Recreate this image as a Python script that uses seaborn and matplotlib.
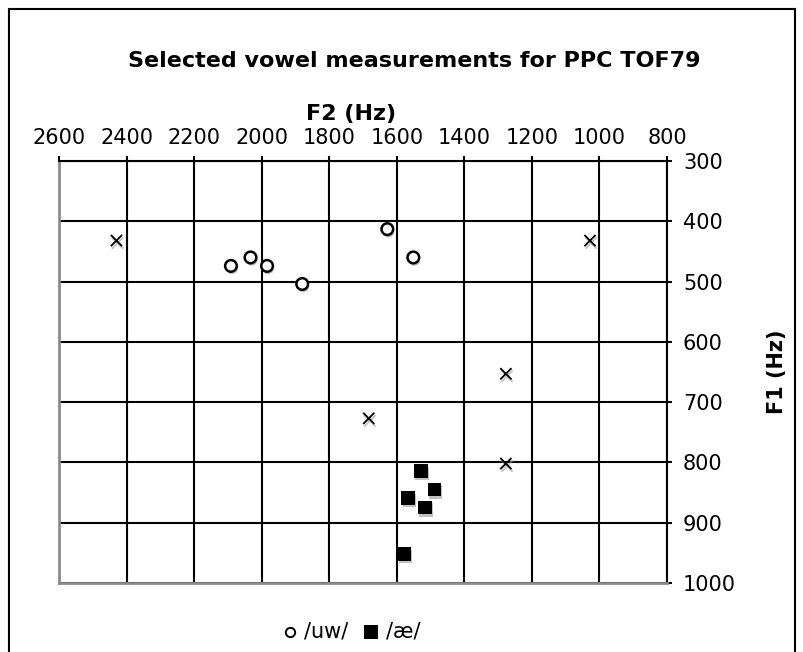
import matplotlib
matplotlib.use("Agg")
import matplotlib.pyplot as plt
import matplotlib.patheffects as pe
import seaborn as sns
import pandas as pd
from matplotlib.patches import Rectangle

# /uw/ tokens
uw_f2 = [2091, 2033, 1984, 1880, 1628, 1551]
uw_f1 = [474, 460, 474, 504, 413, 460]

# /ae/ tokens
ae_f2 = [1529, 1488, 1566, 1517, 1578]
ae_f1 = [814, 845, 859, 875, 952]

# other reference vowels (x markers, not in legend)
ref_f2 = [2430, 1028, 1277, 1683, 1277]
ref_f1 = [432, 432, 653, 727, 802]

df_uw = pd.DataFrame({"F2": uw_f2, "F1": uw_f1})
df_ae = pd.DataFrame({"F2": ae_f2, "F1": ae_f1})
df_ref = pd.DataFrame({"F2": ref_f2, "F1": ref_f1})

sns.set_style("white")
plt.rcParams['font.family'] = ['DejaVu Sans']
plt.rcParams['text.color'] = 'black'
plt.rcParams['axes.labelcolor'] = 'black'
plt.rcParams['xtick.color'] = 'black'
plt.rcParams['ytick.color'] = 'black'

fig = plt.figure(figsize=[8.04, 6.52], dpi=100)
ax = fig.add_axes([0.0734, 0.106, 0.7562, 0.647])

shadow = [pe.SimplePatchShadow(offset=(0.8, -1.8), shadow_rgbFace='0.6', alpha=0.6), pe.Normal()]
lshadow = [pe.SimpleLineShadow(offset=(0.8, -1.8), shadow_color='0.6', alpha=0.6), pe.Normal()]

sns.scatterplot(data=df_ref, x="F2", y="F1", marker='x', color='black', s=65, linewidth=1.3,
                ax=ax, zorder=5, legend=False)
sns.scatterplot(data=df_uw, x="F2", y="F1", marker='o', facecolor='white', edgecolor='black',
                s=70, linewidth=1.8, ax=ax, zorder=5, label='/uw/')
sns.scatterplot(data=df_ae, x="F2", y="F1", marker='s', color='black', edgecolor='black',
                s=95, linewidth=0, ax=ax, zorder=5, label='/æ/')
for coll in ax.collections:
    coll.set_path_effects(lshadow if coll is ax.collections[0] else shadow)

ax.set_xlim(2600, 800)
ax.set_ylim(1000, 300)
ax.set_xticks(range(2600, 799, -200))
ax.set_yticks(range(300, 1001, 100))
ax.grid(True, color='black', linewidth=1.5)
ax.set_axisbelow(True)

ax.xaxis.tick_top()
ax.xaxis.set_label_position('top')
ax.yaxis.tick_right()
ax.yaxis.set_label_position('right')
ax.tick_params(axis='both', direction='out', length=3.5, width=1.5, color='black',
               labelsize=15, labelcolor='black')
ax.tick_params(axis='x', pad=6)
ax.tick_params(axis='y', pad=8)

for side in ['top', 'right']:
    ax.spines[side].set_color('black')
    ax.spines[side].set_linewidth(1.5)
for side in ['left', 'bottom']:
    ax.spines[side].set_color('0.55')
    ax.spines[side].set_linewidth(2)

ax.set_xlabel('F2 (Hz)', fontsize=16, fontweight='bold', labelpad=6)
ax.xaxis.label.set_x(0.48)
ax.set_ylabel('F1 (Hz)', fontsize=15, fontweight='bold', labelpad=22)

fig.text(0.515, 0.906, 'Selected vowel measurements for PPC TOF79', ha='center', va='center',
         fontsize=16, fontweight='bold')

leg = ax.legend(loc='center', bbox_to_anchor=(0.475, -0.116), ncol=2, frameon=False, fontsize=15,
                handletextpad=0.0, columnspacing=0.4, markerscale=0.8, handlelength=1.4)
leg.legend_handles[0].set_sizes([45])
leg.legend_handles[0].set_linewidth(1.4)
leg.legend_handles[1].set_sizes([110])
for h in leg.legend_handles:
    h.set_path_effects([])

fig.patches.append(Rectangle((0.011, -0.01), 0.978, 0.996, transform=fig.transFigure,
                             fill=False, edgecolor='black', linewidth=1.5))

plt.savefig("out.png", dpi=100)
